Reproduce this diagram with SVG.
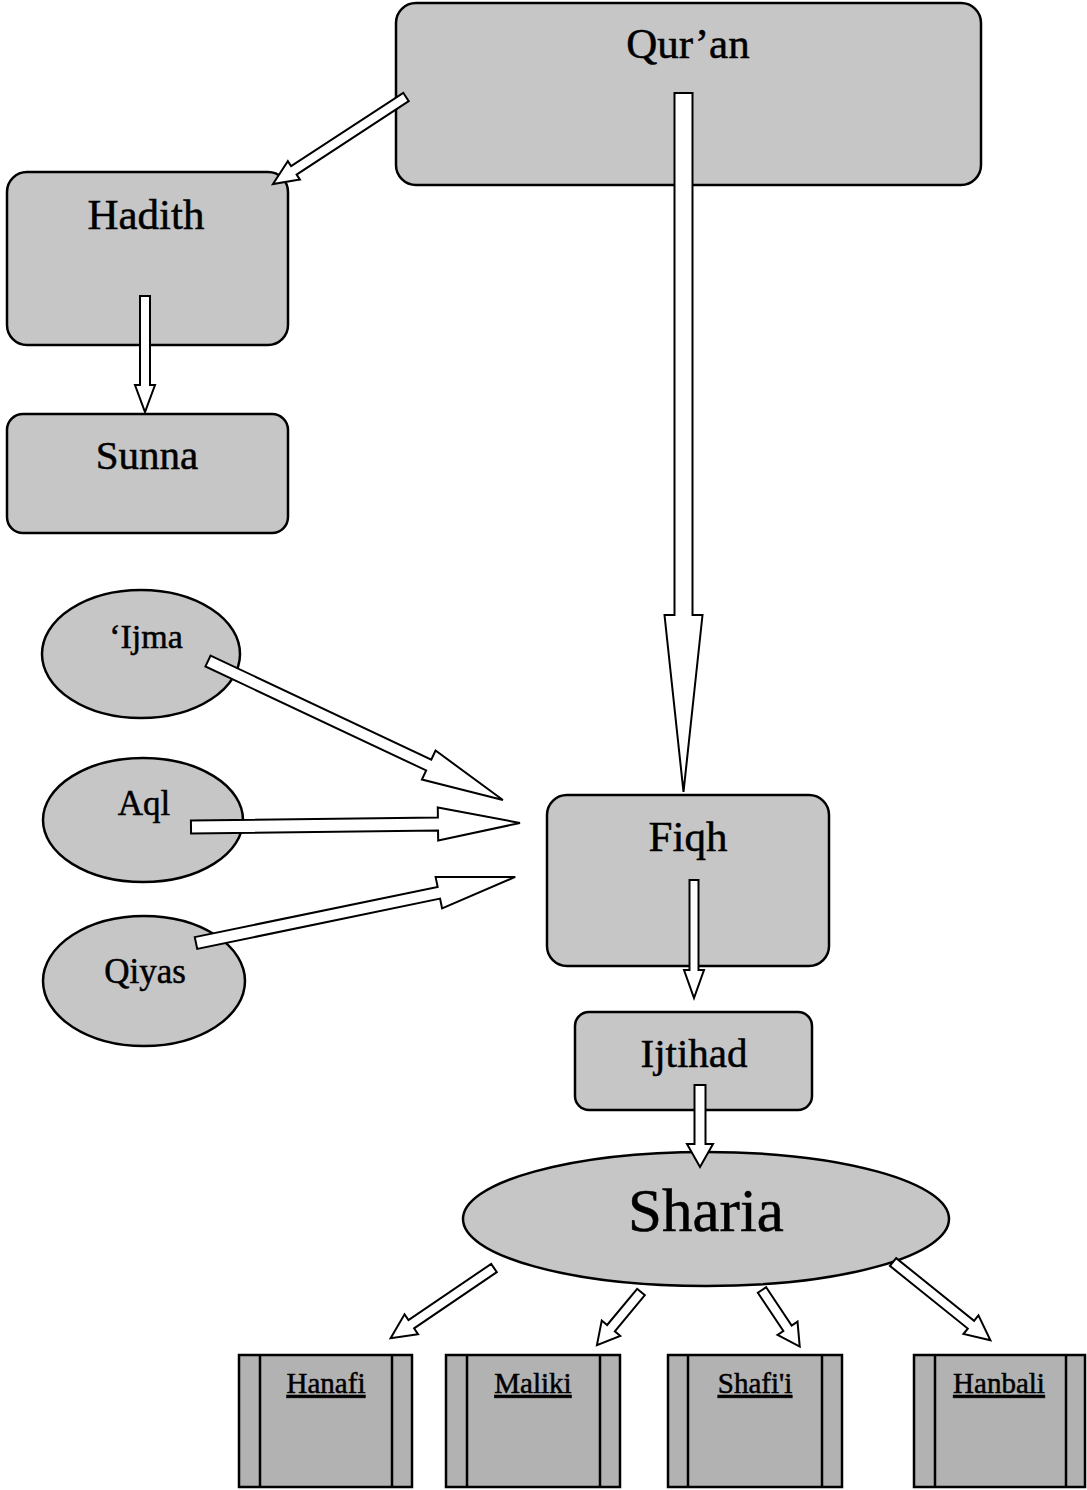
<svg xmlns="http://www.w3.org/2000/svg" width="1087" height="1490" viewBox="0 0 1087 1490">
<style>
.box{fill:#c6c6c6;stroke:#000;stroke-width:2.5}
.sch{fill:#b2b2b2;stroke:#000;stroke-width:2.5}
.ln{stroke:#000;stroke-width:2.5}
.lbl{font-family:"Liberation Serif","Times New Roman",serif;fill:#000;stroke:#000;stroke-width:0.5;text-anchor:middle}
.arr{fill:#fff;stroke:#000;stroke-width:2;stroke-linejoin:miter}
</style>
<rect width="1087" height="1490" fill="#fff"/>
<g id="quran"><rect class="box" x="396" y="3" width="585" height="182" rx="20"/><text class="lbl" x="688" y="58" font-size="43">Qur’an</text></g>
<g id="hadith"><rect class="box" x="7" y="172" width="281" height="173" rx="20"/><text class="lbl" x="146" y="229" font-size="43">Hadith</text></g>
<g id="sunna"><rect class="box" x="7" y="414" width="281" height="119" rx="16"/><text class="lbl" x="147" y="469" font-size="41">Sunna</text></g>
<g id="ijma"><ellipse class="box" cx="141" cy="654" rx="99" ry="64"/><text class="lbl" x="146" y="648" font-size="34">‘Ijma</text></g>
<g id="aql"><ellipse class="box" cx="143" cy="820" rx="100" ry="62"/><text class="lbl" x="144" y="815" font-size="35">Aql</text></g>
<g id="qiyas"><ellipse class="box" cx="144" cy="981" rx="101" ry="65"/><text class="lbl" x="145" y="983" font-size="35">Qiyas</text></g>
<g id="fiqh"><rect class="box" x="547" y="795" width="282" height="171" rx="20"/><text class="lbl" x="688" y="851" font-size="43">Fiqh</text></g>
<g id="ijtihad"><rect class="box" x="575" y="1012" width="237" height="98" rx="14"/><text class="lbl" x="694" y="1067" font-size="41">Ijtihad</text></g>
<g id="sharia"><ellipse class="box" cx="706" cy="1219" rx="243" ry="67"/><text class="lbl" x="706" y="1231" font-size="61">Sharia</text></g>
<g id="hanafi"><rect class="sch" x="239" y="1355" width="173" height="132"/><line class="ln" x1="260" y1="1355" x2="260" y2="1487"/><line class="ln" x1="392" y1="1355" x2="392" y2="1487"/><text class="lbl" x="326" y="1393" font-size="29" text-decoration="underline">Hanafi</text></g>
<g id="maliki"><rect class="sch" x="446" y="1355" width="174" height="132"/><line class="ln" x1="467" y1="1355" x2="467" y2="1487"/><line class="ln" x1="600" y1="1355" x2="600" y2="1487"/><text class="lbl" x="533" y="1393" font-size="29" text-decoration="underline">Maliki</text></g>
<g id="shafii"><rect class="sch" x="668" y="1355" width="174" height="132"/><line class="ln" x1="688" y1="1355" x2="688" y2="1487"/><line class="ln" x1="822" y1="1355" x2="822" y2="1487"/><text class="lbl" x="755" y="1393" font-size="29" text-decoration="underline">Shafi'i</text></g>
<g id="hanbali"><rect class="sch" x="914" y="1355" width="171" height="132"/><line class="ln" x1="935" y1="1355" x2="935" y2="1487"/><line class="ln" x1="1066" y1="1355" x2="1066" y2="1487"/><text class="lbl" x="999" y="1393" font-size="29" text-decoration="underline">Hanbali</text></g>
<g id="connectors">
<polygon class="arr" transform="translate(406,97) rotate(146.8)" points="0,-5 134,-5 134,-11 159,0 134,11 134,5 0,5"/>
<polygon class="arr" transform="translate(145,296) rotate(90)" points="0,-5 89,-5 89,-10 116,0 89,10 89,5 0,5"/>
<polygon class="arr" transform="translate(683.5,93) rotate(90)" points="0,-9 522,-9 522,-19 699,0 522,19 522,9 0,9"/>
<polygon class="arr" transform="translate(208,661) rotate(25.23)" points="0,-6 244,-6 244,-16 326,0 244,16 244,6 0,6"/>
<polygon class="arr" transform="translate(191,827) rotate(-0.7)" points="0,-6.5 247,-6.5 247,-16.5 329,0 247,16.5 247,6.5 0,6.5"/>
<polygon class="arr" transform="translate(196,943) rotate(-11.69)" points="0,-6 248,-6 248,-16 326,0 248,16 248,6 0,6"/>
<polygon class="arr" transform="translate(694,880) rotate(90)" points="0,-4.5 90,-4.5 90,-10 118,0 90,10 90,4.5 0,4.5"/>
<polygon class="arr" transform="translate(700,1085) rotate(90)" points="0,-5.5 59,-5.5 59,-13 82,0 59,13 59,5.5 0,5.5"/>
<polygon class="arr" transform="translate(494,1268) rotate(145.8)" points="0,-5 100,-5 100,-12 125,0 100,12 100,5 0,5"/>
<polygon class="arr" transform="translate(641,1292) rotate(129.7)" points="0,-5 47,-5 47,-12 69,0 47,12 47,5 0,5"/>
<polygon class="arr" transform="translate(762,1290) rotate(56.3)" points="0,-5 46,-5 46,-12 68,0 46,12 46,5 0,5"/>
<polygon class="arr" transform="translate(893,1262) rotate(38.8)" points="0,-5 100,-5 100,-12 125,0 100,12 100,5 0,5"/>
</g>
</svg>
